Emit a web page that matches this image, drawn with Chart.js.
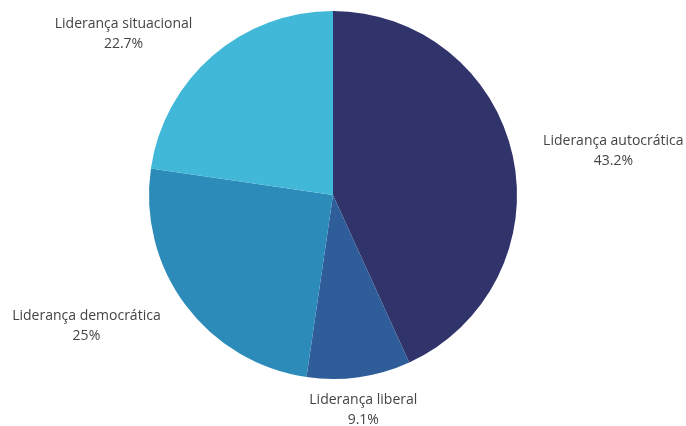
<!DOCTYPE html>
<html>
<head>
<meta charset="utf-8">
<script src="https://cdn.jsdelivr.net/npm/chart.js@4"></script>
<style>
  body { margin: 0; background: #fff; }
</style>
</head>
<body>
<canvas id="chart" width="686" height="426"></canvas>
<script>
const labels = ['Liderança autocrática', 'Liderança liberal', 'Liderança democrática', 'Liderança situacional'];
const values = [43.2, 9.1, 25, 22.7];
const valueLabels = ['43.2%', '9.1%', '25%', '22.7%'];
const colors = ['#31346b', '#2e5d9a', '#2d8bba', '#42b8d9'];

const outsideLabels = {
  id: 'outsideLabels',
  afterDatasetsDraw(chart) {
    const { ctx } = chart;
    const meta = chart.getDatasetMeta(0);
    ctx.save();
    ctx.font = '14px "Open Sans"';
    ctx.fillStyle = '#444';
    ctx.textBaseline = 'middle';
    meta.data.forEach((arc, i) => {
      const { x, y, startAngle, endAngle, outerRadius } = arc.getProps(['x', 'y', 'startAngle', 'endAngle', 'outerRadius'], true);
      const mid = (startAngle + endAngle) / 2;
      const cos = Math.cos(mid), sin = Math.sin(mid);
      const r = outerRadius + 31;
      const ax = x + r * cos;
      const ay = y + r * sin;
      const w = Math.max(ctx.measureText(labels[i]).width, ctx.measureText(valueLabels[i]).width);
      let cx;
      if (cos > 0.3) cx = ax + w / 2;
      else if (cos < -0.3) cx = ax - w / 2;
      else cx = ax;
      ctx.textAlign = 'center';
      ctx.fillText(labels[i], cx, ay - 8);
      ctx.fillText(valueLabels[i], cx, ay + 12);
    });
    ctx.restore();
  }
};

new Chart(document.getElementById('chart'), {
  type: 'pie',
  data: {
    labels: labels,
    datasets: [{
      data: values,
      backgroundColor: colors,
      borderWidth: 0
    }]
  },
  options: {
    responsive: false,
    animation: false,
    layout: {
      padding: { top: 11, bottom: 47, left: 100, right: 120 }
    },
    plugins: {
      legend: { display: false },
      tooltip: { enabled: false }
    }
  },
  plugins: [outsideLabels]
});
</script>
</body>
</html>
